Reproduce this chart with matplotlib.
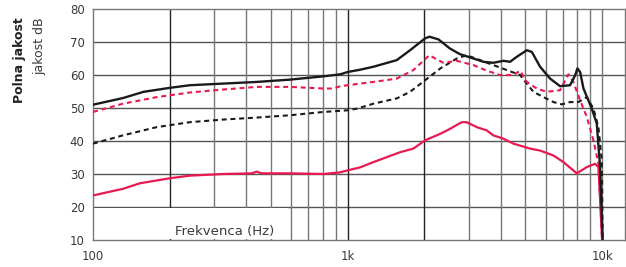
import matplotlib.pyplot as plt
from matplotlib.patches import Rectangle

# --- Data ---
black_solid_f = [100, 131, 158, 200, 240, 325, 440, 594, 804, 936, 1000, 1120, 1263,
                 1560, 1760, 2016, 2097, 2275, 2527, 2767, 3122, 3417, 3740, 4095,
                 4350, 4620, 5058, 5295, 5706, 6249, 6840, 7482, 7833, 8000, 8198,
                 8449, 9108, 9528, 9819, 10050]
black_solid_db = [51.0, 53.0, 54.9, 56.1, 56.9, 57.4, 57.9, 58.6, 59.6, 60.2, 60.9, 61.6, 62.5,
                  64.5, 67.5, 71.1, 71.6, 70.8, 68.0, 66.3, 65.0, 64.0, 63.7, 64.3,
                  64.0, 65.5, 67.5, 67.0, 62.5, 58.9, 56.6, 56.9, 59.9, 62.0, 60.9,
                  55.9, 49.8, 45.3, 32.1, 10.0]

red_dash_f = [100, 131, 178, 240, 325, 440, 594, 804, 880, 936, 1000, 1263, 1560,
              1814, 2097, 2207, 2380, 2686, 3122, 3524, 3973, 4484, 4762, 5058,
              5537, 6062, 6840, 7373, 7710, 8198, 8707, 9245, 9672, 10000]
red_dash_db = [48.8, 51.3, 53.3, 54.7, 55.6, 56.4, 56.4, 55.9, 55.9, 56.6, 56.9, 57.9, 58.9,
               61.5, 66.0, 65.0, 63.7, 64.3, 63.0, 61.3, 60.0, 60.0, 61.3, 57.9,
               55.9, 54.9, 55.4, 60.2, 57.9, 52.3, 47.3, 40.2, 33.1, 10.0]

black_dash_f = [100, 131, 178, 240, 325, 440, 594, 804, 1000, 1087, 1263, 1560, 1760,
                2016, 2316, 2686, 2938, 3316, 3740, 4221, 4762, 5058, 5373, 5883,
                6440, 6944, 7482, 8073, 8707, 9245, 9672, 9970, 10050]
black_dash_db = [39.2, 41.7, 44.2, 45.7, 46.5, 47.1, 47.8, 48.8, 49.3, 49.8, 51.3, 52.9, 54.9,
                 58.4, 62.0, 65.0, 66.0, 64.5, 63.0, 61.5, 60.0, 57.4, 54.9, 53.3,
                 51.8, 51.1, 51.8, 51.8, 53.3, 49.8, 44.2, 34.1, 10.0]

red_solid_f = [100, 131, 153, 200, 240, 325, 420, 440, 460, 594, 804, 936, 1000, 1120,
               1263, 1608, 1814, 2016, 2316, 2527, 2810, 2938, 3219, 3524, 3740,
               4095, 4484, 5213, 5706, 6440, 7047, 7955, 8707, 9386, 9672, 10000]
red_solid_db = [23.5, 25.5, 27.2, 28.7, 29.5, 30.0, 30.2, 30.7, 30.2, 30.2, 30.0, 30.5, 31.1, 32.0,
                33.6, 36.6, 37.7, 40.2, 42.2, 43.7, 45.7, 45.7, 44.2, 43.2, 41.7,
                40.7, 39.2, 37.7, 37.1, 35.6, 33.6, 30.2, 32.1, 33.1, 32.1, 10.0]

y_ticks = [10, 20, 30, 40, 50, 60, 70, 80]
x_ticks = [100, 1000, 10000]
x_tick_labels = ['100', '1k', '10k']

RED = '#e8194f'
BLACK = '#1a1a1a'
TEXT = '#3a3a3a'

fig = plt.figure(figsize=(6.26, 2.67), dpi=100)
ax = fig.add_axes([93 / 626, 1 - 240 / 267, 532 / 626, 231 / 267])
ax.set_xscale('log')
ax.set_xlim(100, 12300)
ax.set_ylim(10, 80)

# grid lines drawn by hand so the 1k / 2x lines can be darker
for y in y_ticks[1:-1]:
    ax.axhline(y, color='#555555', lw=1.0, zorder=1)
for dec in (100, 1000):
    for m in range(2, 10):
        ax.axvline(dec * m, color='#222222' if m == 2 else '#777777', lw=1.0, zorder=1)
ax.axvline(1000, color='#222222', lw=1.0, zorder=1)
ax.axvline(10000, color='#777777', lw=1.0, zorder=1)

for s in ax.spines.values():
    s.set_color('#777777')
    s.set_linewidth(1.0)

# white box behind the axis title, hides grid in the bottom row
ax.add_patch(Rectangle((100, 10.2), 482, 9.6, facecolor='white', edgecolor='none', zorder=2))
ax.text(330, 12.6, 'Frekvenca (Hz)', fontsize=9.5, color=TEXT, ha='center', va='center', zorder=3)

ax.plot(red_solid_f, red_solid_db, color=RED, lw=1.6, zorder=4)
ax.plot(black_dash_f, black_dash_db, color=BLACK, lw=1.5, ls=(0, (2.4, 1.8)), zorder=4)
ax.plot(red_dash_f, red_dash_db, color=RED, lw=1.5, ls=(0, (2.4, 1.8)), zorder=5)
ax.plot(black_solid_f, black_solid_db, color=BLACK, lw=1.7, zorder=6)

ax.set_yticks(y_ticks)
ax.set_xticks(x_ticks)
ax.set_xticklabels(x_tick_labels)
ax.minorticks_off()
ax.tick_params(length=0, labelsize=8.5, labelcolor=TEXT, pad=6)
ax.tick_params(axis='x', pad=7)

fig.text(20 / 626, 1 - 17 / 267, 'Polna jakost', rotation=90, fontsize=9,
         fontweight='bold', color='#222222', ha='center', va='top')
fig.text(40 / 626, 1 - 17 / 267, 'jakost dB', rotation=90, fontsize=9,
         color=TEXT, ha='center', va='top')

fig.savefig('out.png', dpi=100)
